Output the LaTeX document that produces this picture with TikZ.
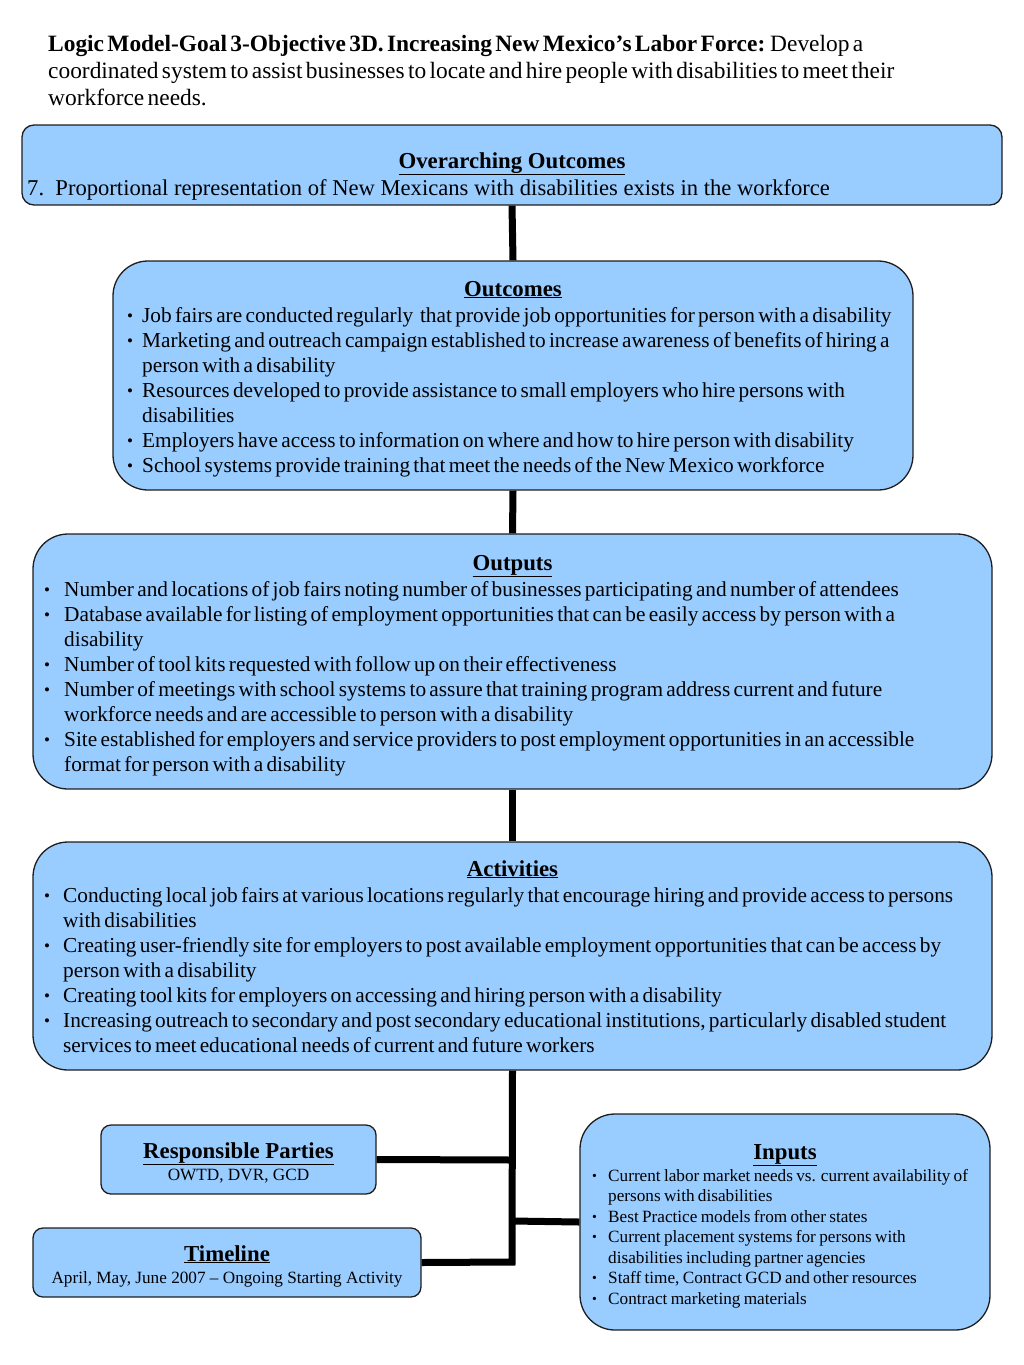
\documentclass[tikz,border=0pt]{standalone}
\usepackage{fontspec}
\setmainfont{Liberation Serif}
\definecolor{boxblue}{RGB}{153,204,255}
\definecolor{boxline}{RGB}{30,30,30}
\newcommand{\bigtxt}{\fontsize{21.3}{25}\selectfont}
\newcommand{\smalltxt}{\fontsize{17.2}{20.5}\selectfont}
\newcommand{\ttl}{\fontsize{22.8}{25}\selectfont\bfseries}
\newcommand{\mybul}[2]{\par\noindent\hangindent=#1\hangafter=1\makebox[#1][l]{\hspace{#2}\raisebox{0.07em}{\scalebox{0.8}{•}}}\strut}
\tikzset{
  box/.style={draw=boxline, line width=1.3pt, fill=boxblue, inner sep=0pt},
  conn/.style={line width=7pt, draw=black},
  txt/.style={inner sep=0pt, align=left},
}
\begin{document}
\begin{tikzpicture}[x=1pt,y=-1pt]
\useasboundingbox (0,0) rectangle (1024,1365);
% header
\node[txt, anchor=north west, text width=960pt] (head) at (48,51-18.9)
 {\fontsize{23.4}{27}\selectfont\strut\textbf{Logic Model-Goal 3-Objective 3D. Increasing New Mexico’s Labor Force:} Develop a\newline coordinated system to assist businesses to locate and hire people with disabilities to meet their\newline workforce needs.\par};
% boxes
\node[box, rounded corners=12pt, minimum width=980pt, minimum height=80pt] (over) at (512,165) {};
\node[box, rounded corners=35pt, minimum width=800pt, minimum height=229pt] (outc) at (513,375.5) {};
\node[box, rounded corners=35pt, minimum width=959pt, minimum height=255pt] (outp) at (512.5,661.5) {};
\node[box, rounded corners=35pt, minimum width=959pt, minimum height=228pt] (acti) at (512.5,956) {};
\node[box, rounded corners=10pt, minimum width=275pt, minimum height=69pt] (resp) at (238.5,1159.5) {};
\node[box, rounded corners=10pt, minimum width=388pt, minimum height=69pt] (time) at (227,1262.5) {};
\node[box, rounded corners=35pt, minimum width=410pt, minimum height=216pt] (inp) at (785,1222) {};
% connectors
\coordinate (j1) at (512,1160);
\coordinate (j2) at (512,1221);
\coordinate (j3) at (512,1262);
\draw[conn] (over.south) -- (outc.north);
\draw[conn] (outc.south) -- (outp.north);
\draw[conn] (outp.south) -- (acti.north);
\draw[conn] (time.east) -- (j3) -- (acti.south);
\draw[conn] (resp.east) -- (j1);
\draw[conn] (j2) -- (inp.west);
% overarching
\node[txt, anchor=base] (overT) at (512,168) {\ttl\underline{Overarching Outcomes}};
\node[txt, anchor=base west] (overL) at (27,195) {\fontsize{22.6}{25}\selectfont 7.\ \ Proportional representation of New Mexicans with disabilities exists in the workforce};
% outcomes
\node[txt, anchor=base] (outcT) at (513,296) {\ttl\underline{Outcomes}};
\node[txt, anchor=north west, text width=790pt] (outcL) at (126,321-23.5) {\bigtxt
\mybul{16pt}{1pt}Job fairs are conducted regularly\ \ that provide job opportunities for person with a disability
\mybul{16pt}{1pt}Marketing and outreach campaign established to increase awareness of benefits of hiring a\newline person with a disability
\mybul{16pt}{1pt}Resources developed to provide assistance to small employers who hire persons with\newline disabilities
\mybul{16pt}{1pt}Employers have access to information on where and how to hire person with disability
\mybul{16pt}{1pt}School systems provide training that meet the needs of the New Mexico workforce\par};
% outputs
\node[txt, anchor=base] (outpT) at (512.5,570) {\ttl\underline{Outputs}};
\node[txt, anchor=north west, text width=950pt] (outpL) at (43,595-23.5) {\bigtxt
\mybul{21pt}{1pt}Number and locations of job fairs noting number of businesses participating and number of attendees
\mybul{21pt}{1pt}Database available for listing of employment opportunities that can be easily access by person with a\newline disability
\mybul{21pt}{1pt}Number of tool kits requested with follow up on their effectiveness
\mybul{21pt}{1pt}Number of meetings with school systems to assure that training program address current and future\newline workforce needs and are accessible to person with a disability
\mybul{21pt}{1pt}Site established for employers and service providers to post employment opportunities in an accessible\newline format for person with a disability\par};
% activities
\node[txt, anchor=base] (actiT) at (512.5,876) {\ttl\underline{Activities}};
\node[txt, anchor=north west, text width=950pt] (actiL) at (43,901-23.5) {\bigtxt
\mybul{20pt}{1pt}Conducting local job fairs at various locations regularly that encourage hiring and provide access to persons\newline with disabilities
\mybul{20pt}{1pt}Creating user-friendly site for employers to post available employment opportunities that can be access by\newline person with a disability
\mybul{20pt}{1pt}Creating tool kits for employers on accessing and hiring person with a disability
\mybul{20pt}{1pt}Increasing outreach to secondary and post secondary educational institutions, particularly disabled student\newline services to meet educational needs of current and future workers\par};
% responsible
\node[txt, anchor=base] (respT) at (238.5,1158) {\ttl\underline{Responsible Parties}};
\node[txt, anchor=base] (respL) at (238.5,1180) {\smalltxt OWTD, DVR, GCD};
% timeline
\node[txt, anchor=base] (timeT) at (227,1261) {\ttl\underline{Timeline}};
\node[txt, anchor=base] (timeL) at (227,1283) {\smalltxt April, May, June 2007 -- Ongoing Starting Activity};
% inputs
\node[txt, anchor=base] (inpT) at (785,1159) {\ttl\underline{Inputs}};
\node[txt, anchor=north west, text width=400pt] (inpL) at (591,1181-20.35) {\smalltxt
\mybul{17pt}{1pt}Current labor market needs vs. current availability of\newline persons with disabilities
\mybul{17pt}{1pt}Best Practice models from other states
\mybul{17pt}{1pt}Current placement systems for persons with\newline disabilities including partner agencies
\mybul{17pt}{1pt}Staff time, Contract GCD and other resources
\mybul{17pt}{1pt}Contract marketing materials\par};
\end{tikzpicture}
\end{document}
